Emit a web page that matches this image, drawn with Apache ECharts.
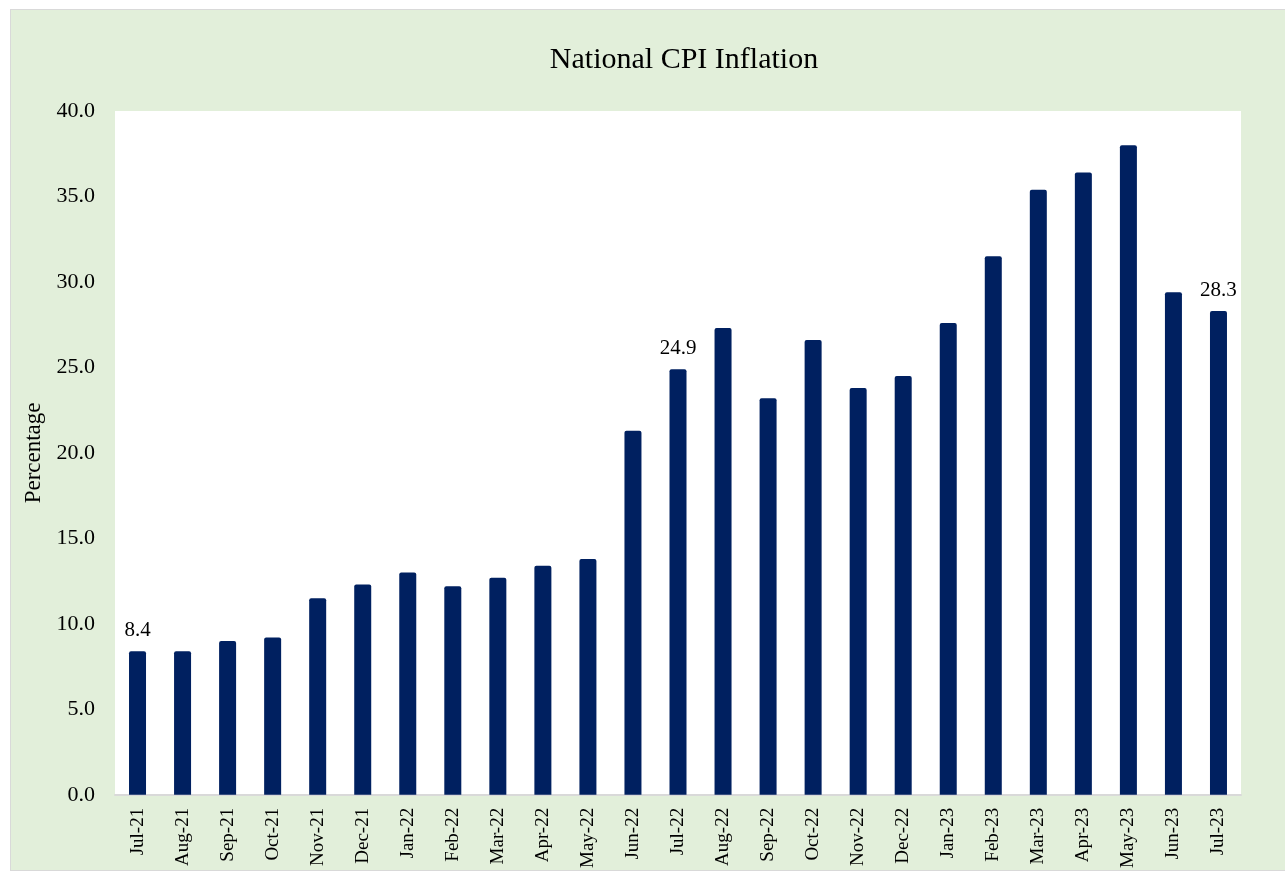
<!DOCTYPE html>
<html>
<head>
<meta charset="utf-8">
<script src="https://cdn.jsdelivr.net/npm/echarts@6/dist/echarts.min.js"></script>
<style>
  html, body { margin: 0; padding: 0; background: #ffffff; }
  #frame {
    position: absolute; left: 10px; top: 9px; width: 1290px; height: 860px;
    background: #e2efda; border: 1px solid #d9d9d9;
  }
  #main { position: absolute; left: 0; top: 0; width: 1285px; height: 871px; }
</style>
</head>
<body>
<div id="frame"></div>
<div id="main"></div>
<script>
// CPI inflation, yoy %
var months = ['Jul-21', 'Aug-21', 'Sep-21', 'Oct-21', 'Nov-21', 'Dec-21', 'Jan-22', 'Feb-22', 'Mar-22',
  'Apr-22', 'May-22', 'Jun-22', 'Jul-22', 'Aug-22', 'Sep-22', 'Oct-22', 'Nov-22', 'Dec-22',
  'Jan-23', 'Feb-23', 'Mar-23', 'Apr-23', 'May-23', 'Jun-23', 'Jul-23'];
var cpi = [8.4, 8.4, 9.0, 9.2, 11.5, 12.3, 13.0, 12.2, 12.7,
  13.4, 13.8, 21.3, 24.9, 27.3, 23.2, 26.6, 23.8, 24.5,
  27.6, 31.5, 35.4, 36.4, 38.0, 29.4, 28.3];
var labelled = ['Jul-21', 'Jul-22', 'Jul-23']; // only these show a value

var serif = '"Liberation Serif", "Times New Roman", serif';

var myChart = echarts.init(document.getElementById('main'));

var barData = cpi.map(function(v, i) {
  var item = { value: v };
  if (labelled.indexOf(months[i]) >= 0) {
    item.label = { show: true, position: 'top', distance: 10, fontSize: 21, color: '#000', fontFamily: serif, formatter: function(p) { return p.value.toFixed(1); } };
  }
  return item;
});

var option = {
  animation: false,
  title: {
    text: 'National CPI Inflation',
    left: 679, top: 40, textAlign: 'center',
    textStyle: { fontFamily: serif, fontSize: 30, fontWeight: 'normal', color: '#000' }
  },
  grid: {
    left: 115, right: 44, top: 111, bottom: 76,
    show: true, backgroundColor: '#ffffff', borderWidth: 0
  },
  xAxis: {
    type: 'category',
    data: months,
    axisLine: { lineStyle: { color: '#d9d9d9', width: 2 } },
    axisTick: { show: false },
    axisLabel: { rotate: 90, fontFamily: serif, fontSize: 19, color: '#000', margin: 13, interval: 0 }
  },
  yAxis: {
    type: 'value',
    min: 0, max: 40, interval: 5,
    name: 'Percentage',
    nameLocation: 'middle',
    nameGap: 70,
    nameTextStyle: { fontFamily: serif, fontSize: 23, color: '#000' },
    splitLine: { show: false },
    axisLine: { show: false },
    axisTick: { show: false },
    axisLabel: {
      fontFamily: serif, fontSize: 22, color: '#000', margin: 20,
      formatter: function(v) { return v.toFixed(1); }
    }
  },
  series: [{
    type: 'bar',
    data: barData,
    barWidth: 17,
    itemStyle: { color: '#002060', borderRadius: [2, 2, 0, 0] }
  }]
};

myChart.setOption(option);
</script>
</body>
</html>
